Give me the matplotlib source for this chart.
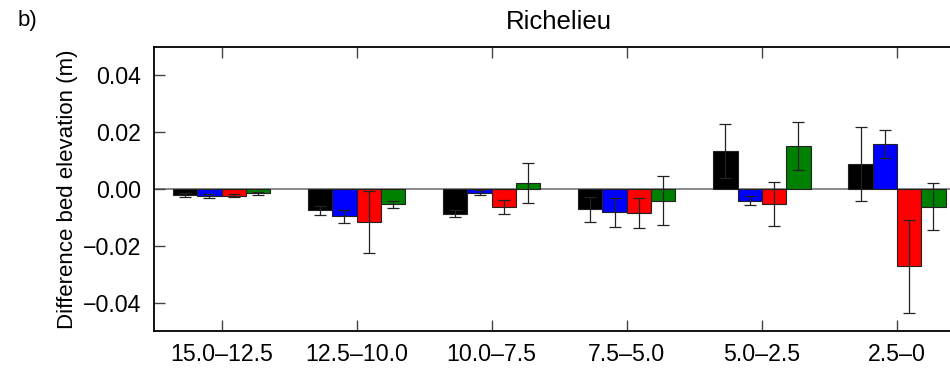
import numpy as np
import matplotlib
matplotlib.use("Agg")
import matplotlib.pyplot as plt

plt.rcParams['font.family'] = ['Liberation Sans', 'DejaVu Sans']

# River reaches (km) and bed-elevation differences per series
reaches = ["15.0–12.5", "12.5–10.0", "10.0–7.5", "7.5–5.0", "5.0–2.5", "2.5–0"]

black_vals = [-0.0021, -0.0076, -0.0087, -0.0072, 0.0133, 0.0086]
black_err = [0.0008, 0.0017, 0.0013, 0.0045, 0.0095, 0.0130]

blue_vals = [-0.0024, -0.0097, -0.0013, -0.0083, -0.0041, 0.0158]
blue_err = [0.0007, 0.0024, 0.0009, 0.0052, 0.0015, 0.0049]

red_vals = [-0.0024, -0.0117, -0.0065, -0.0085, -0.0054, -0.0272]
red_err = [0.0005, 0.0109, 0.0025, 0.0053, 0.0077, 0.0164]

green_vals = [-0.0016, -0.0055, 0.0020, -0.0042, 0.0151, -0.0063]
green_err = [0.0006, 0.0014, 0.0070, 0.0086, 0.0084, 0.0083]

yticks = [-0.04, -0.02, 0.0, 0.02, 0.04]

series = [
    (black_vals, black_err, "black"),
    (blue_vals, blue_err, "blue"),
    (red_vals, red_err, "red"),
    (green_vals, green_err, "green"),
]

fig = plt.figure(figsize=(9.5, 3.69), dpi=100)
ax = fig.add_axes([0.1621, 0.1030, 0.8532, 0.7704])

x = np.arange(len(reaches))
width = 0.18

ax.axhline(0, color="#808080", lw=1.3, zorder=1)

for k, (vals, errs, col) in enumerate(series):
    pos = x + (k - 1.5) * width
    ax.bar(pos, vals, width=width, color=col, edgecolor="#222222",
           linewidth=0.8, zorder=2)
    ax.errorbar(pos, vals, yerr=errs, fmt="none", ecolor="#222222",
                elinewidth=0.9, capsize=4.3, capthick=0.9, zorder=3)

ax.set_xlim(-0.5, 5.5)
ax.set_ylim(-0.05, 0.05)
ax.set_xticks(x)
ax.set_xticklabels(reaches)
ax.set_yticks(yticks)
ax.set_yticklabels([f"{v:.2f}".replace("-", "−") for v in yticks])

ax.tick_params(axis="both", direction="in", length=8, width=1, color="#444444",
               labelsize=16.7, pad=9, top=True, right=True)

for s in ax.spines.values():
    s.set_linewidth(1.3)

ax.set_ylabel("Difference bed elevation (m)", fontsize=16, labelpad=4)
ax.set_title("Richelieu", fontsize=18.5, pad=13)
fig.text(0.019, 0.945, "b)", fontsize=16, ha="left", va="center")

fig.savefig("out.png", dpi=100)
